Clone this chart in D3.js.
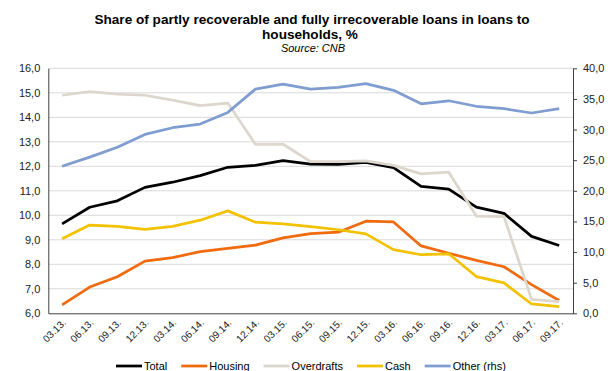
<!DOCTYPE html>
<html>
<head>
<meta charset="utf-8">
<script src="https://cdn.jsdelivr.net/npm/d3@7"></script>
<style>
  body { margin: 0; background: #fff; }
  text { font-family: "Liberation Sans", Arial, sans-serif; fill: #000; }
</style>
</head>
<body>
<div id="chart"></div>
<script>
var quarters = ["03.13.", "06.13.", "09.13.", "12.13.", "03.14.", "06.14.", "09.14.", "12.14.",
  "03.15.", "06.15.", "09.15.", "12.15.", "03.16.", "06.16.", "09.16.", "12.16.",
  "03.17.", "06.17.", "09.17."];

var total = [9.65, 10.33, 10.59, 11.14, 11.35, 11.62, 11.96, 12.04, 12.23, 12.09, 12.08, 12.16, 11.95, 11.18, 11.07, 10.33, 10.08, 9.14, 8.77];
var housing = [6.34, 7.07, 7.49, 8.13, 8.27, 8.52, 8.65, 8.78, 9.08, 9.25, 9.31, 9.76, 9.73, 8.75, 8.45, 8.16, 7.90, 7.17, 6.52];
var overdrafts = [14.9, 15.05, 14.95, 14.9, 14.7, 14.48, 14.58, 12.9, 12.9, 12.19, 12.19, 12.22, 12.04, 11.69, 11.76, 9.97, 9.95, 6.57, 6.48];
var cash = [9.04, 9.6, 9.55, 9.43, 9.55, 9.8, 10.18, 9.72, 9.65, 9.54, 9.41, 9.24, 8.6, 8.39, 8.43, 7.5, 7.24, 6.38, 6.27];
var otherRhs = [24.0, 25.5, 27.1, 29.2, 30.3, 30.9, 32.8, 36.6, 37.4, 36.6, 36.9, 37.5, 36.4, 34.2, 34.7, 33.8, 33.4, 32.7, 33.4];

var leftTicks = [6, 7, 8, 9, 10, 11, 12, 13, 14, 15, 16];
var rightTicks = [0, 5, 10, 15, 20, 25, 30, 35, 40];

var series = [
  { name: "Total", values: total, color: "#000000", axis: "left" },
  { name: "Housing", values: housing, color: "#f06a0e", axis: "left" },
  { name: "Overdrafts", values: overdrafts, color: "#ddd6cc", axis: "left" },
  { name: "Cash", values: cash, color: "#f2c200", axis: "left" },
  { name: "Other (rhs)", values: otherRhs, color: "#7f9dd1", axis: "right" }
];

var W = 614, H = 371;
var margin = { top: 68.3, right: 41, bottom: 57.7, left: 48.3 };
var width = W - margin.left - margin.right,
    height = H - margin.top - margin.bottom;

var svg = d3.select("#chart")
  .append("svg")
  .attr("width", W)
  .attr("height", H);

var g = svg.append("g")
  .attr("transform", "translate(" + margin.left + "," + margin.top + ")");

var x = d3.scalePoint().domain(quarters).range([0, width]).padding(0.5);
var y = d3.scaleLinear().domain([6, 16]).range([height, 0]);
var yR = d3.scaleLinear().domain([0, 40]).range([height, 0]);

var fmt = function(d) { return d3.format(".1f")(d).replace(".", ","); };

// gridlines
g.append("g")
  .selectAll("line")
  .data(leftTicks.filter(function(d) { return d > 6; }))
  .enter().append("line")
  .attr("x1", 0).attr("x2", width)
  .attr("y1", function(d) { return y(d); })
  .attr("y2", function(d) { return y(d); })
  .attr("stroke", "#d9d9d9")
  .attr("stroke-width", 1);

// left axis
var yAxis = g.append("g")
  .call(d3.axisLeft(y).tickValues(leftTicks).tickFormat(fmt).tickSize(0).tickPadding(8));
yAxis.select(".domain").attr("stroke", "#404040");
yAxis.selectAll("text").attr("font-size", "11px").style("fill", "#222");

// right axis
var yAxisR = g.append("g")
  .attr("transform", "translate(" + width + ",0)")
  .call(d3.axisRight(yR).tickValues(rightTicks).tickFormat(fmt).tickSizeInner(4).tickSizeOuter(0).tickPadding(6));
yAxisR.selectAll("line, .domain").attr("stroke", "#404040");
yAxisR.selectAll("text").attr("font-size", "11px").style("fill", "#222");

// bottom axis
var xAxis = g.append("g")
  .attr("transform", "translate(0," + height + ")")
  .call(d3.axisBottom(x).tickSize(0).tickPadding(0));
xAxis.select(".domain").attr("stroke", "#404040");
xAxis.selectAll("text")
  .attr("font-size", "10px")
  .style("fill", "#222")
  .attr("text-anchor", "end")
  .attr("dy", "0")
  .attr("transform", "translate(4,10) rotate(-45)");

// lines
series.forEach(function(s) {
  var ys = s.axis === "right" ? yR : y;
  g.append("path")
    .datum(s.values)
    .attr("fill", "none")
    .attr("stroke", s.color)
    .attr("stroke-width", 2.75)
    .attr("stroke-linejoin", "round")
    .attr("d", d3.line()
      .x(function(d, i) { return x(quarters[i]); })
      .y(function(d) { return ys(d); }));
});

// title
svg.append("text")
  .attr("x", 312).attr("y", 24)
  .attr("text-anchor", "middle")
  .attr("font-size", "13.6px").attr("font-weight", "bold")
  .text("Share of partly recoverable and fully irrecoverable loans in loans to");
svg.append("text")
  .attr("x", 310).attr("y", 39)
  .attr("text-anchor", "middle")
  .attr("font-size", "13.6px").attr("font-weight", "bold")
  .text("households, %");
svg.append("text")
  .attr("x", 313).attr("y", 52)
  .attr("text-anchor", "middle")
  .attr("font-size", "11px").attr("font-style", "italic")
  .text("Source:  CNB");

// legend
var legend = svg.append("g").attr("transform", "translate(116,366)");
var lx = 0;
series.forEach(function(s) {
  var item = legend.append("g").attr("transform", "translate(" + lx + ",0)");
  item.append("line")
    .attr("x1", 0).attr("x2", 26)
    .attr("y1", 0).attr("y2", 0)
    .attr("stroke", s.color)
    .attr("stroke-width", 2.75);
  var t = item.append("text")
    .attr("x", 28).attr("y", 4)
    .attr("font-size", "11px")
    .text(s.name);
  lx += 28 + t.node().getComputedTextLength() + 14;
});
</script>
</body>
</html>
